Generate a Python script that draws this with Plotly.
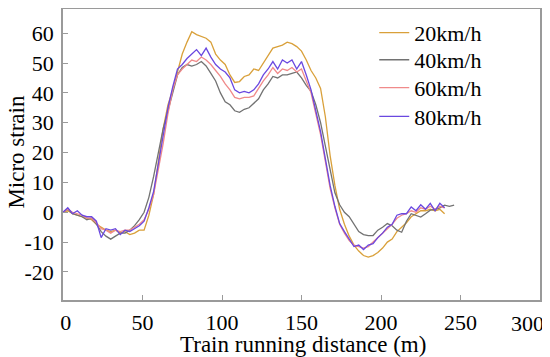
import plotly.graph_objects as go

# sampling positions (m)
dist = list(range(0, 241, 3))          # 0..240
dist_40 = dist + [243, 246]

strain_20 = [0, 0.5, -0.5, -1, -1.5, -2, -2.5, -4, -5, -6, -6.5, -6, -7, -6.5, -7.5, -7,
             -6, -6, -1, 6, 17, 28, 36, 41, 47, 53, 57, 60.5, 59.5, 59, 58.3, 57,
             53, 51, 49.5, 46, 43.5, 43.8, 45.5, 46, 48, 47.5, 50, 52.5, 55, 55.5, 56, 57,
             56.5, 55.5, 54, 51, 47.5, 45, 41.5, 32, 19, 9, 1, -4, -8, -11,
             -13, -14.5, -15, -14.5, -13.5, -12, -10, -9, -6.5, -5, -3.5, -1.5, -0.5, 0.5,
             0.5, 1, 0.5, 1, -0.5]

strain_40 = [0, 1, -0.5, -1, -1.5, -2.5, -2, -4, -6.5, -8, -9, -8, -7, -7, -6, -4.5,
             -2.5, 0, 5, 12, 20, 28, 34, 40, 46, 48.5, 49.5, 49, 49.5, 50.5, 49, 46.5,
             44, 40, 37, 36, 34, 33.5, 34.5, 35, 36.5, 38, 41, 43, 45.5, 45, 46, 46,
             46.5, 47, 45, 42.5, 40.5, 36, 30, 22, 14, 6.5, 2.5, 0, -1.5, -4,
             -6.5, -7.5, -7.8, -7.8, -6, -5, -3.8, -4.5, -6, -6.7, -3, -0.5, -1, -1.6,
             -0.5, 0.7, 1, 1.5, 2.4, 2, 2.4]

strain_60 = [0, 1, 0, -0.5, -1, -2, -2, -3.5, -5.5, -6, -7, -6, -6.5, -6, -6, -5,
             -4, -2.5, 1, 6, 14, 23, 33, 41, 46, 48, 49.5, 51, 50.5, 52, 51, 49.5,
             47.5, 45.5, 43, 41, 38.5, 38, 38.5, 38.5, 39, 41.5, 44, 46, 48.5, 46.5, 48, 47.5,
             48.5, 47, 48, 44, 40, 33, 26, 17, 8, 1.5, -4, -7, -9.5, -11,
             -11.5, -12, -11.5, -10, -8.5, -7, -5.5, -4, -2, -1, -0.5, 0.5, 0, 1.5,
             1, 2, 1, 2, 1.5]

strain_80 = [0, 1.5, -0.5, 0.5, -1, -1.5, -1.5, -3, -8.5, -5.5, -6, -5.5, -7.5, -6, -6.5, -5.5,
             -4.5, -3, 1.5, 7, 16, 25, 35, 42, 48, 49.5, 51.5, 53, 54.5, 52.5, 55, 52,
             49.5, 48, 47, 45, 41, 40, 40.5, 40, 41, 43, 46, 48, 50.5, 48, 51, 50,
             51, 48, 50.5, 46, 41, 34, 27, 18, 9, 2, -3.8, -6.5, -9, -11.5,
             -11, -12.5, -11, -10.5, -8.5, -7, -5, -4, -1, -0.5, -0.5, 1.8, 0.5, 2.5,
             1, 3, 0.5, 3, 1.5]

labels = ["20km/h", "40km/h", "60km/h", "80km/h"]
colors = ["#D9A03A", "#727272", "#F08A8A", "#6A48E0"]

x_ticks = [0, 50, 100, 150, 200, 250, 300]
x_ticktext = ["0", "50", "100", "150", "200", "250", "300"]
y_ticks = [-20, -10, 0, 10, 20, 30, 40, 50, 60]
y_ticktext = ["-20", "-10", "0", "10", "20", "30", "40", "50", "60"]

FONT = "Liberation Serif"

fig = go.Figure()
series = [(dist, strain_20), (dist_40, strain_40), (dist, strain_60), (dist, strain_80)]
legend_ids = ["legend", "legend2", "legend3", "legend4"]
for (xs, ys), name, c, lg in zip(series, labels, colors, legend_ids):
    fig.add_trace(go.Scatter(x=xs, y=ys, mode="lines", name=name, legend=lg,
                             line=dict(color=c, width=1.3)))

axis_common = dict(showline=True, linecolor="#9a9a9a", linewidth=1.5, mirror=True,
                   showgrid=False, zeroline=False, ticks="inside", ticklen=5,
                   tickcolor="#9a9a9a", automargin=False,
                   tickfont=dict(family=FONT, size=22, color="black"))

# last x tick label is drawn as a right-anchored annotation so it stays inside the canvas
shown_x_text = ["\u00a0" + x_ticktext[0]] + x_ticktext[1:-1] + [""]

legend_y = [0.918, 0.825, 0.729, 0.630]
legend_style = dict(x=0.6525, xanchor="left", yanchor="middle",
                    bgcolor="rgba(0,0,0,0)", font=dict(family=FONT, size=22),
                    itemwidth=30)

fig.update_layout(
    width=542, height=349,
    margin=dict(l=55, r=10, t=1, b=56.5),
    paper_bgcolor="white", plot_bgcolor="white",
    font=dict(family=FONT, color="black"),
    xaxis=dict(range=[0, 300], tickvals=x_ticks, ticktext=shown_x_text, ticklabelstandoff=2,
               ticklabeloverflow="allow", **axis_common),
    yaxis=dict(range=[-29.4, 68.1], tickvals=y_ticks, ticktext=y_ticktext,
               ticklabelstandoff=3, **axis_common),
    legend=dict(y=legend_y[0], **legend_style),
    legend2=dict(y=legend_y[1], **legend_style),
    legend3=dict(y=legend_y[2], **legend_style),
    legend4=dict(y=legend_y[3], **legend_style),
    showlegend=True,
    annotations=[
        dict(text=x_ticktext[-1], xref="x", yref="paper", x=x_ticks[-1], y=0,
             xanchor="right", yanchor="top", xshift=6, yshift=-9, showarrow=False,
             font=dict(family=FONT, size=22, color="black")),
        dict(text="Train running distance (m)", xref="paper", yref="paper",
             x=0.504, y=-0.152, xanchor="center", yanchor="middle", showarrow=False,
             font=dict(family=FONT, size=23, color="black")),
        dict(text="Micro strain", xref="paper", yref="paper", textangle=-90,
             x=-0.097, y=0.509, xanchor="center", yanchor="middle", showarrow=False,
             font=dict(family=FONT, size=23, color="black")),
    ],
)

fig.write_html("out.html")
